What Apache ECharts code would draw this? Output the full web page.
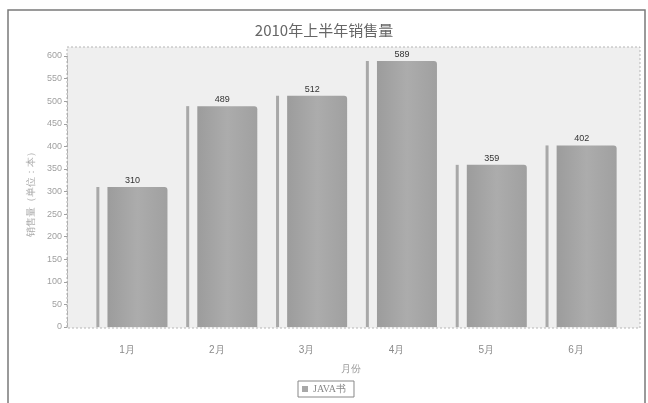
<!DOCTYPE html>
<html>
<head>
<meta charset="utf-8">
<style>
  html, body { margin: 0; padding: 0; background: #ffffff; }
  #chart { width: 648px; height: 403px; }
</style>
<script src="https://cdn.jsdelivr.net/npm/echarts@6/dist/echarts.min.js"></script>
</head>
<body>
<div id="chart"></div>
<script>
// Monthly sales, first half of 2010
var months = ['1月', '2月', '3月', '4月', '5月', '6月'];
var sales = [310, 489, 512, 589, 359, 402];
var yTicks = [0, 50, 100, 150, 200, 250, 300, 350, 400, 450, 500, 550, 600];

var chart = echarts.init(document.getElementById('chart'), null, { renderer: 'canvas' });

var barFill = new echarts.graphic.LinearGradient(0, 0, 1, 0, [
  { offset: 0, color: '#9c9c9c' },
  { offset: 0.5, color: '#acacac' },
  { offset: 1, color: '#a0a0a0' }
]);

chart.setOption({
  backgroundColor: '#ffffff',
  animation: false,
  title: {
    text: '2010年上半年销售量',
    left: 'center',
    top: 18,
    textStyle: { fontFamily: 'Noto Sans CJK SC, serif', fontSize: 15, fontWeight: 'normal', color: '#666666' }
  },
  graphic: [
    // outer frame of the chart
    { type: 'rect', z: -10, silent: true,
      shape: { x: 8, y: 10, width: 637, height: 400 },
      style: { fill: 'none', stroke: '#7a7a7a', lineWidth: 1.5 } },
    // plot area background
    { type: 'rect', z: -5, silent: true,
      shape: { x: 67, y: 47, width: 573, height: 281 },
      style: { fill: '#efefef', stroke: '#b5b5b5', lineWidth: 1, lineDash: [2, 2] } }
  ],
  legend: {
    data: ['JAVA书'],
    bottom: 6,
    left: 'center',
    itemWidth: 6,
    itemHeight: 6,
    itemGap: 4,
    padding: [3, 8, 3, 4],
    borderColor: '#888888',
    borderWidth: 1,
    icon: 'rect',
    textStyle: { fontFamily: 'serif', fontSize: 10, color: '#888888' }
  },
  grid: { left: 87, right: 22, top: 56, bottom: 76 },
  xAxis: {
    type: 'category',
    data: months,
    name: '月份',
    nameLocation: 'middle',
    nameGap: 37,
    nameTextStyle: { fontSize: 10, color: '#9a9a9a', padding: [0, 12, 0, 0] },
    axisLine: { show: false },
    axisTick: { show: false },
    axisLabel: { fontSize: 10, color: '#8a8a8a', margin: 18, padding: [0, 10, 0, 0] }
  },
  yAxis: {
    type: 'value',
    min: 0,
    max: 600,
    interval: 50,
    offset: 20,
    name: '销售量（单位：本）',
    nameLocation: 'middle',
    nameGap: 25,
    nameRotate: 90,
    nameTextStyle: { fontSize: 10, color: '#aaaaaa' },
    axisLine: { show: true, lineStyle: { color: '#b0b0b0', type: 'dashed', width: 1 } },
    axisTick: { show: true, length: 3, lineStyle: { color: '#a0a0a0' } },
    axisLabel: {
      fontSize: 9, color: '#a0a0a0', margin: 5,
      formatter: function (v) { return yTicks.indexOf(v) >= 0 ? String(v) : ''; }
    },
    splitLine: { show: false }
  },
  series: [
    {
      // narrow side face of each bar
      name: 'JAVA书',
      type: 'bar',
      data: sales,
      barWidth: 3,
      barGap: '270%',
      itemStyle: { color: '#a8a8a8' },
      silent: true,
      legendHoverLink: false
    },
    {
      name: 'JAVA书',
      type: 'bar',
      data: sales,
      barWidth: 60,
      itemStyle: { color: barFill, borderRadius: [0, 3, 0, 0] },
      label: {
        show: true,
        position: 'top',
        distance: 2,
        fontSize: 9,
        color: '#333333',
        padding: [0, 10, 0, 0]
      }
    }
  ]
});
</script>
</body>
</html>
